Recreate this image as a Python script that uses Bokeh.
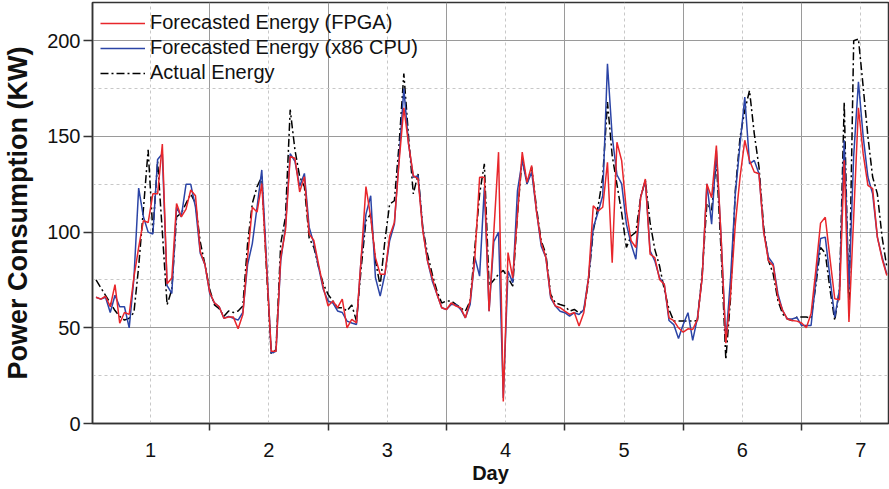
from bokeh.plotting import figure
from bokeh.models import FixedTicker, Legend, LegendItem, Range1d
from bokeh.embed import file_html
from bokeh.resources import INLINE

# ---- data: hourly samples over one week ----
fpga = [
    66, 65, 66.5, 61, 72.6, 52.4, 58, 57, 76.5, 92, 106, 105, 120, 120, 146, 73, 76, 115, 108, 112, 122, 119, 90, 83, 68.6, 63, 61, 55,
    55.6, 55.6, 49.5, 57, 86.8, 113, 110.5, 125.4, 82, 37.7, 37.7, 86.8, 100.9, 139.5, 138.6, 121, 129, 99, 95.6, 83, 71, 61.4, 64, 60.5, 65, 50, 54.4,
    52.6, 86.7, 123.8, 107.7, 86.7, 78, 78, 98, 105, 137, 165, 146, 129.5, 127.8, 100.7, 85, 76, 67.5, 60.5, 59.6, 63, 61.4, 60.5, 55.2, 64, 86.7, 128.7, 128.7,
    58.7, 100, 141.8, 11.5, 89.3, 76, 109, 141.8, 126, 134.8, 111, 94.6, 86.7, 66.6, 61.4, 60.5, 58.7, 57, 58, 51, 57.9, 76, 113.8, 111, 113, 136.5, 84, 147,
    137.4, 111, 95.5, 92, 118, 127.8, 88.5, 86.7, 75.3, 72.7, 55.2, 53.8, 50, 47.7, 49.5, 49.1, 54.4, 76.2, 125.2, 118, 145.3, 97, 42, 67.5, 104.2, 128.7, 148, 137.4,
    131.4, 130.5, 100, 85, 82.5, 66, 59, 54.6, 53.8, 53.5, 52.5, 50, 57.5, 80, 104.7, 107.8, 86, 65.2, 64.7, 137.5, 53, 108, 165, 141, 124.4, 122.7, 97.4, 86, 77.3,
]
cpu = [
    66, 65, 66, 58, 67, 61, 61, 50, 76, 123, 108, 100, 99, 138, 141, 72, 68, 113, 108, 125, 125, 113, 89, 83, 68, 63, 61, 55,
    56, 55, 54, 58, 83, 94, 113, 132.5, 85, 36.8, 37.7, 85, 102.6, 141, 137, 124, 130.7, 102.6, 94, 81.6, 70, 64, 63, 58.8, 58, 53.5, 52.5,
    51.7, 86.7, 109.4, 119, 76.2, 66.6, 78, 95.5, 104.2, 139, 175, 146, 128.7, 129.5, 101.6, 85, 74.5, 67.5, 60.5, 59.6, 62.2, 62.2, 59.6, 55.2, 62.2, 86.7, 77, 123.4,
    58.7, 95, 100, 13.3, 79.7, 73.6, 121.7, 137.4, 125.2, 131.3, 111.2, 92.8, 86.7, 65.7, 61.4, 58.7, 57.9, 56.1, 57.9, 57, 59.6, 76.2, 102.4, 110.3, 119, 188, 150, 130,
    125.2, 104.2, 93.7, 85.8, 118.2, 127, 90.2, 85, 76.2, 72.7, 53.8, 51.7, 44.4, 51.7, 57.9, 43.4, 55.2, 76.2, 125.2, 104.2, 142.6, 97.2, 42.9, 76.2, 119.9, 146, 170.6, 135.7,
    137.5, 130.5, 100, 86.9, 83.4, 67.7, 59, 54.6, 54.6, 55.4, 51.2, 51.2, 51.2, 74.7, 96.7, 97.4, 76, 55.5, 70, 148, 70, 140, 178.5, 150, 128.8, 120, 97.4, 86.9, 78,
]
actual = [
    75, 71, 67, 63, 59, 56, 54, 55, 58, 82, 112, 143, 100, 137, 100, 62, 70, 108, 110, 115, 120, 115, 95, 83, 70, 62, 60, 56,
    58.8, 58, 58.8, 61.4, 94, 115, 123.7, 129, 80, 36, 38.6, 94, 108, 164, 143, 129, 123.7, 97, 92, 81.6, 72.8, 67.5, 64, 60.5, 60.5, 58.8, 62,
    53.5, 81.5, 106, 109.4, 85, 72, 95.5, 114.7, 116.4, 146, 182.9, 149.7, 120, 130.4, 102.4, 88.5, 78, 69.2, 63, 64, 64, 62.2, 60.5, 58.7, 64, 92, 120, 135.7,
    72, 75, 78, 80, 76, 71.8, 109.4, 139, 125.2, 133.9, 113, 95.5, 88.5, 67.5, 63.1, 62.2, 61.4, 58.7, 59.6, 57.9, 58.7, 74.5, 100.7, 113, 128.7, 168, 140, 125,
    110, 92, 98, 100, 118.2, 127, 105, 91, 82.3, 70, 59.6, 53.5, 53.5, 53.5, 53.5, 53.5, 53.8, 78.3, 115, 111.5, 137.4, 90, 33.4, 65.7, 121.7, 149.7, 163.6, 174,
    151.5, 134, 102.6, 85.2, 78.2, 64.2, 57.2, 54.6, 53.8, 55.6, 55.6, 55.6, 55, 72, 92, 89, 70, 53.8, 70, 168, 60, 200, 201, 176, 150, 128.8, 120, 97.4, 81.7,
]
hours = list(range(len(fpga)))
day = [0.54 + h / 25 for h in hours]

x_labels = [1, 2, 3, 4, 5, 6, 7]
x_half = [0.5, 1.5, 2.5, 3.5, 4.5, 5.5, 6.5, 7.5]
y_major = [0, 50, 100, 150, 200]
y_minor = [25, 75, 125, 175]

series_names = ["Forecasted Energy (FPGA)", "Forecasted Energy (x86 CPU)", "Actual Energy"]
x_title = "Day"
y_title = "Power Consumption (KW)"

FONT = "Liberation Sans"
AX = "#333333"

p = figure(width=889, height=489, x_range=Range1d(0.51, 7.234), y_range=Range1d(0, 220),
           output_backend="svg", toolbar_location=None,
           min_border_left=92, min_border_right=1, min_border_top=2, min_border_bottom=66,
           x_axis_label=x_title, y_axis_label=y_title)
p.outline_line_color = AX
p.outline_line_width = 1.5

xt = FixedTicker(ticks=x_labels, minor_ticks=x_half)
yt = FixedTicker(ticks=y_major, minor_ticks=y_minor)

xa = p.xaxis[0]
xa.ticker = xt
xa.major_tick_out = 0
xa.major_tick_in = 0
xa.minor_tick_out = 7
xa.minor_tick_in = 0
xa.major_label_standoff = 12
xa.axis_label_standoff = 2
xa.major_label_text_font = FONT
xa.major_label_text_font_size = "20px"
xa.major_label_text_line_height = 1.0
xa.major_label_text_color = "#111111"
xa.axis_label_text_font = FONT
xa.axis_label_text_font_size = "20px"
xa.axis_label_text_line_height = 1.0
xa.axis_label_text_font_style = "bold"
xa.axis_label_text_color = "#111111"
xa.axis_line_color = AX
xa.axis_line_width = 1.5
xa.minor_tick_line_color = AX
xa.minor_tick_line_width = 1.5

ya = p.yaxis[0]
ya.ticker = yt
ya.major_tick_out = 9
ya.major_tick_in = 0
ya.minor_tick_out = 0
ya.minor_tick_in = 0
ya.major_label_standoff = 3
ya.axis_label_standoff = 11
ya.major_label_text_font = FONT
ya.major_label_text_font_size = "20px"
ya.major_label_text_color = "#111111"
ya.axis_label_text_font = FONT
ya.axis_label_text_font_size = "27px"
ya.axis_label_text_font_style = "bold"
ya.axis_label_text_color = "#111111"
ya.axis_line_color = AX
ya.axis_line_width = 1.5
ya.major_tick_line_color = AX
ya.major_tick_line_width = 1.5

p.xgrid.ticker = xt
p.xgrid.grid_line_color = "#c8c8c8"
p.xgrid.grid_line_dash = "3 3"
p.xgrid.minor_grid_line_color = "#9a9a9a"
p.ygrid.ticker = yt
p.ygrid.grid_line_color = "#9a9a9a"
p.ygrid.minor_grid_line_color = "#c8c8c8"
p.ygrid.minor_grid_line_dash = "3 3"

r_act = p.line(day, actual, line_color="black", line_width=1.5, line_dash="8 3 2 3")
r_cpu = p.line(day, cpu, line_color="#2b44a6", line_width=1.5)
r_fpga = p.line(day, fpga, line_color="#e8262b", line_width=1.5)

legend = Legend(items=[LegendItem(label=series_names[0], renderers=[r_fpga]),
                       LegendItem(label=series_names[1], renderers=[r_cpu]),
                       LegendItem(label=series_names[2], renderers=[r_act])],
                location=(8, 339), orientation="vertical",
                glyph_width=45, glyph_height=22, label_height=22, label_standoff=5,
                spacing=2, padding=0, margin=0,
                border_line_alpha=0, background_fill_alpha=0,
                label_text_font=FONT, label_text_font_size="20px", label_text_color="#111111")
p.add_layout(legend)

open("out.html", "w").write(file_html(p, INLINE))
